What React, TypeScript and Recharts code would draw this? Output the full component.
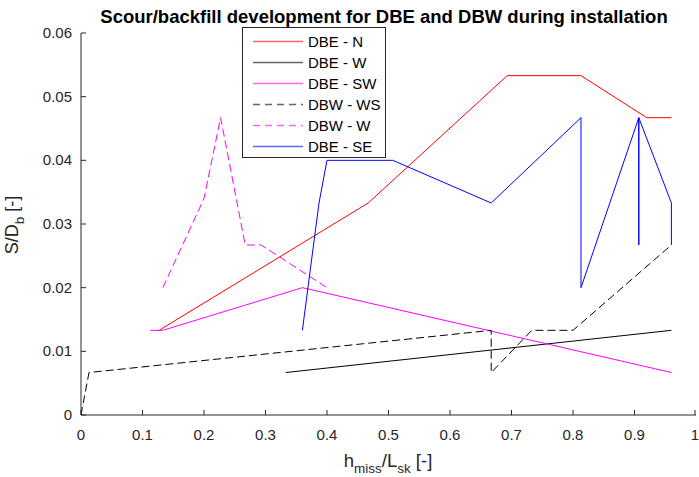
import React from 'react';
import { LineChart, Line, XAxis, YAxis } from 'recharts';

// x = h_miss / L_sk, y = S / D_b
const dbeNx = [0.127, 0.467, 0.693, 0.813, 0.92, 0.96];
const dbeNy = [0.0133, 0.0333, 0.0533, 0.0533, 0.0467, 0.0467];

const dbeWx = [0.333, 0.96];
const dbeWy = [0.00667, 0.0133];

const dbeSWx = [0.113, 0.133, 0.36, 0.96];
const dbeSWy = [0.0133, 0.0133, 0.02, 0.00667];

const dbwWSx = [0, 0.013, 0.667, 0.667, 0.733, 0.8, 0.96];
const dbwWSy = [0, 0.00667, 0.0133, 0.00667, 0.0133, 0.0133, 0.0267];

const dbwWx = [0.133, 0.2, 0.227, 0.267, 0.293, 0.4];
const dbwWy = [0.02, 0.034, 0.0467, 0.0267, 0.0267, 0.02];

const dbeSEx = [0.36, 0.387, 0.4, 0.507, 0.667, 0.813, 0.813, 0.907, 0.907, 0.907, 0.96, 0.96];
const dbeSEy = [0.0133, 0.0333, 0.04, 0.04, 0.0333, 0.0467, 0.02, 0.0467, 0.0267, 0.0467, 0.0333, 0.0267];

const xTicks = [0, 0.1, 0.2, 0.3, 0.4, 0.5, 0.6, 0.7, 0.8, 0.9, 1];
const yTicks = [0, 0.01, 0.02, 0.03, 0.04, 0.05, 0.06];

const toPoints = (xs: number[], ys: number[]) => xs.map((x, i) => ({ x, y: ys[i] }));

const series = [
  { name: 'DBE - N', data: toPoints(dbeNx, dbeNy), color: '#ff0000', dash: undefined },
  { name: 'DBE - W', data: toPoints(dbeWx, dbeWy), color: '#000000', dash: undefined },
  { name: 'DBE - SW', data: toPoints(dbeSWx, dbeSWy), color: '#ff00ff', dash: undefined },
  { name: 'DBW - WS', data: toPoints(dbwWSx, dbwWSy), color: '#000000', dash: '8 4' },
  { name: 'DBW - W', data: toPoints(dbwWx, dbwWy), color: '#ff00ff', dash: '8 4' },
  { name: 'DBE - SE', data: toPoints(dbeSEx, dbeSEy), color: '#0000ff', dash: undefined },
];

const axisColor = '#262626';
const font = 'Liberation Sans, Arial, Helvetica, sans-serif';

const XTick = (props: any) => {
  const { x, y, payload } = props;
  return (
    <g>
      <line x1={x} x2={x} y1={y - 10} y2={y - 15} stroke={axisColor} />
      <text x={x} y={y} dy={15} textAnchor="middle" fill={axisColor} fontSize={15} fontFamily={font}>
        {String(payload.value)}
      </text>
    </g>
  );
};

const YTick = (props: any) => {
  const { x, y, payload } = props;
  return (
    <g>
      <line x1={x + 9} x2={x + 14} y1={y} y2={y} stroke={axisColor} />
      <text x={x} y={y} dy={5} textAnchor="end" fill={axisColor} fontSize={15} fontFamily={font}>
        {String(payload.value)}
      </text>
    </g>
  );
};

const ChartLegend = () => (
  <div
    style={{
      position: 'absolute',
      left: 242,
      top: 27,
      width: 142,
      height: 129,
      border: `1px solid ${axisColor}`,
      background: '#fff',
      fontFamily: font,
      fontSize: 15,
      color: '#000',
    }}
  >
    {series.map((s, i) => (
      <div key={s.name} style={{ position: 'absolute', left: 0, top: 3 + i * 21, height: 21, display: 'flex', alignItems: 'center' }}>
        <svg width={60} height={21} style={{ display: 'block' }}>
          <line x1={10} x2={60} y1={10.5} y2={10.5} stroke={s.color} strokeOpacity={0.6} strokeWidth={1.5} strokeDasharray={s.dash ? '7 5' : undefined} />
        </svg>
        <span style={{ marginLeft: 5, whiteSpace: 'nowrap' }}>{s.name}</span>
      </div>
    ))}
  </div>
);

export default function App() {
  return (
    <div style={{ position: 'absolute', left: 0, top: 0, width: 699, height: 477, background: '#fff' }}>
      <LineChart width={699} height={477} margin={{ top: 33, right: 3, bottom: 0, left: 0 }}>
        <XAxis
          dataKey="x"
          type="number"
          domain={[0, 1]}
          ticks={xTicks}
          height={62}
          allowDataOverflow
          stroke={axisColor}
          tickSize={0}
          tickMargin={10}
          tick={<XTick />}
        />
        <YAxis
          dataKey="y"
          type="number"
          domain={[0, 0.06]}
          ticks={yTicks}
          width={81}
          allowDataOverflow
          stroke={axisColor}
          tickSize={0}
          tickMargin={9}
          tick={<YTick />}
        />
        {series.map((s) => (
          <Line
            key={s.name}
            data={s.data}
            dataKey="y"
            name={s.name}
            type="linear"
            stroke={s.color}
            strokeWidth={1}
            strokeDasharray={s.dash}
            dot={false}
            activeDot={false}
            isAnimationActive={false}
          />
        ))}
        <text x={384} y={23} textAnchor="middle" fontFamily={font} fontSize={18.5} fontWeight="bold" fill="#000">
          Scour/backfill development for DBE and DBW during installation
        </text>
        <text x={388} y={467} textAnchor="middle" fontFamily={font} fontSize={18.5} fill={axisColor}>
          h<tspan fontSize={13.5} dy={6}>miss</tspan>
          <tspan dy={-6}>/L</tspan>
          <tspan fontSize={13.5} dy={6}>sk</tspan>
          <tspan dy={-6}> [-]</tspan>
        </text>
        <text x={0} y={0} transform="translate(18 225) rotate(-90)" textAnchor="middle" fontFamily={font} fontSize={18} fill={axisColor}>
          S/D<tspan fontSize={13.5} dy={6}>b</tspan>
          <tspan dy={-6}> [-]</tspan>
        </text>
      </LineChart>
      <ChartLegend />
    </div>
  );
}
